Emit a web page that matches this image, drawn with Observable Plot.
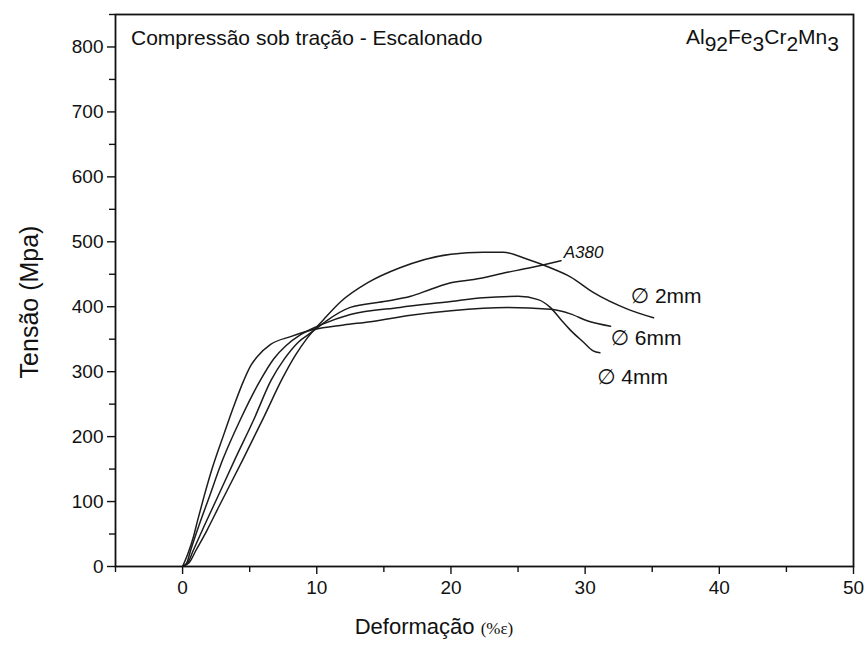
<!DOCTYPE html>
<html>
<head>
<meta charset="utf-8">
<script src="https://cdn.jsdelivr.net/npm/d3@7"></script>
<script src="https://cdn.jsdelivr.net/npm/@observablehq/plot@0.6"></script>
<style>
  body { margin: 0; background: #fff; }
  svg { display: block; }
</style>
</head>
<body>
<div id="chart"></div>
<script>
// Stress–strain curves, compression after tension (stepped), Al92Fe3Cr2Mn3
// Each point: [deformação (%), tensão (MPa)]
const curve2mm = [[0,0],[0.5,6],[1,25],[1.8,55],[2.7,92],[4.5,165],[6.1,232],[7.4,288],[8.4,325],[9.3,352],[10.5,380],[11.8,408],[13.8,437],[16.2,460],[20,481],[22.4,484],[23.9,484],[25.7,473],[27.4,460],[28.9,446],[30.6,422],[33.2,396],[35.1,383]];
const curve4mm = [[0,0],[0.3,5],[0.6,25],[1.2,62],[1.9,102],[3,165],[4.3,226],[5.8,287],[6.8,320],[7.7,340],[8.8,357],[10.3,372],[12.5,388],[16.2,399],[20,408],[22.4,414],[25,416],[26.5,411],[27.4,399],[28.2,380],[28.9,364],[29.9,345],[30.6,332],[31.1,329]];
const curve6mm = [[0,0],[0.4,20],[0.8,45],[1.12,71],[1.6,108],[2.1,144],[3.1,205],[3.8,246],[4.57,287],[5.1,310],[5.56,323],[6.56,342],[8.05,354],[9.76,365],[12,372],[14,377],[17,387],[20,394],[24.2,399],[27.4,396],[28.9,389],[30.2,378],[31.9,370]];
const curveA380 = [[0,0],[0.4,6],[0.8,25],[1.6,62],[2.5,102],[3.9,165],[5.3,226],[6.6,287],[7.6,320],[8.6,345],[9.7,362],[10.7,378],[12.5,399],[15,408],[17,416],[18.5,427],[20,437],[21.7,442],[24.2,453],[25.9,460],[28.2,471]];

const seriesNames = ["2mm", "4mm", "6mm", "A380"];
const seriesData = [curve2mm, curve4mm, curve6mm, curveA380];

// Curve annotations
const labelText = ["\u2205 2mm", "\u2205 6mm", "\u2205 4mm"];
const labelX = [33.4, 31.9, 30.9];
const labelY = [416, 352, 291];
const alloyLabel = {text: "A380", x: 28.4, y: 483};

// Axis ticks
const xMajor = [0, 10, 20, 30, 40, 50];
const xMinor = [-5, 5, 15, 25, 35, 45];
const yMajor = [0, 100, 200, 300, 400, 500, 600, 700, 800];
const yMinor = [50, 150, 250, 350, 450, 550, 650, 750, 850];

const rows = seriesData.flatMap((pts, i) => pts.map(([x, y]) => ({series: seriesNames[i], x, y})));
const labels = labelText.map((t, i) => ({text: t, x: labelX[i], y: labelY[i]}));

const font = "'Liberation Sans', Arial, 'DejaVu Sans', sans-serif";

const plot = Plot.plot({
  width: 868,
  height: 646,
  marginLeft: 115,
  marginRight: 15,
  marginTop: 14,
  marginBottom: 80,
  style: {fontFamily: font, background: "#fff", color: "#111"},
  x: {domain: [-5, 50]},
  y: {domain: [0, 850]},
  marks: [
    Plot.axisX({ticks: xMajor, tickSize: 8, tickPadding: 6, fontSize: 19, label: null, tickFormat: d => String(d), strokeWidth: 1.4}),
    Plot.axisX({ticks: xMinor, tickSize: 6, text: null, label: null, strokeWidth: 1.4}),
    Plot.axisY({ticks: yMajor, tickSize: 8, tickPadding: 4, fontSize: 19, label: null, tickFormat: d => String(d), strokeWidth: 1.4}),
    Plot.axisY({ticks: yMinor, tickSize: 6, text: null, label: null, strokeWidth: 1.4}),
    Plot.line(rows, {x: "x", y: "y", z: "series", stroke: "#1c1c1c", strokeWidth: 1.5, curve: "monotone-x"}),
    Plot.frame({stroke: "#111", strokeWidth: 1.8}),
    Plot.text(labels, {x: "x", y: "y", text: "text", textAnchor: "start", fontSize: 21, fill: "#111"}),
    Plot.text([alloyLabel], {x: "x", y: "y", text: "text", textAnchor: "start", fontSize: 17, fontStyle: "italic", letterSpacing: "2px", fill: "#111"})
  ]
});

const svg = d3.select(plot);

// Test description, top-left inside the frame
svg.append("text")
  .attr("x", 131).attr("y", 45)
  .attr("text-anchor", "start")
  .attr("font-size", 21).attr("fill", "#111")
  .attr("font-family", font)
  .text("Compressão sob tração - Escalonado");

// Alloy composition with subscripts
const formula = svg.append("text")
  .attr("x", 686).attr("y", 44)
  .attr("text-anchor", "start")
  .attr("font-size", 21).attr("fill", "#111")
  .attr("font-family", font);
[["Al", false], ["92", true], ["Fe", false], ["3", true], ["Cr", false], ["2", true], ["Mn", false], ["3", true]]
  .forEach(([t, sub], i) => {
    formula.append("tspan").attr("dy", i === 0 ? 0 : (sub ? 7 : -7)).text(t);
  });

// Axis titles
svg.append("text")
  .attr("transform", "translate(38,302) rotate(-90)")
  .attr("text-anchor", "middle")
  .attr("font-size", 25).attr("fill", "#111")
  .attr("font-family", font)
  .text("Tensão (Mpa)");

const xt = svg.append("text")
  .attr("x", 434).attr("y", 634)
  .attr("text-anchor", "middle")
  .attr("font-size", 22).attr("fill", "#111")
  .attr("font-family", font);
xt.append("tspan").text("Deformação ");
xt.append("tspan").attr("font-family", "'Liberation Serif', 'DejaVu Serif', serif").attr("font-size", 17).text("(%ε)");

document.getElementById("chart").appendChild(plot);
</script>
</body>
</html>
